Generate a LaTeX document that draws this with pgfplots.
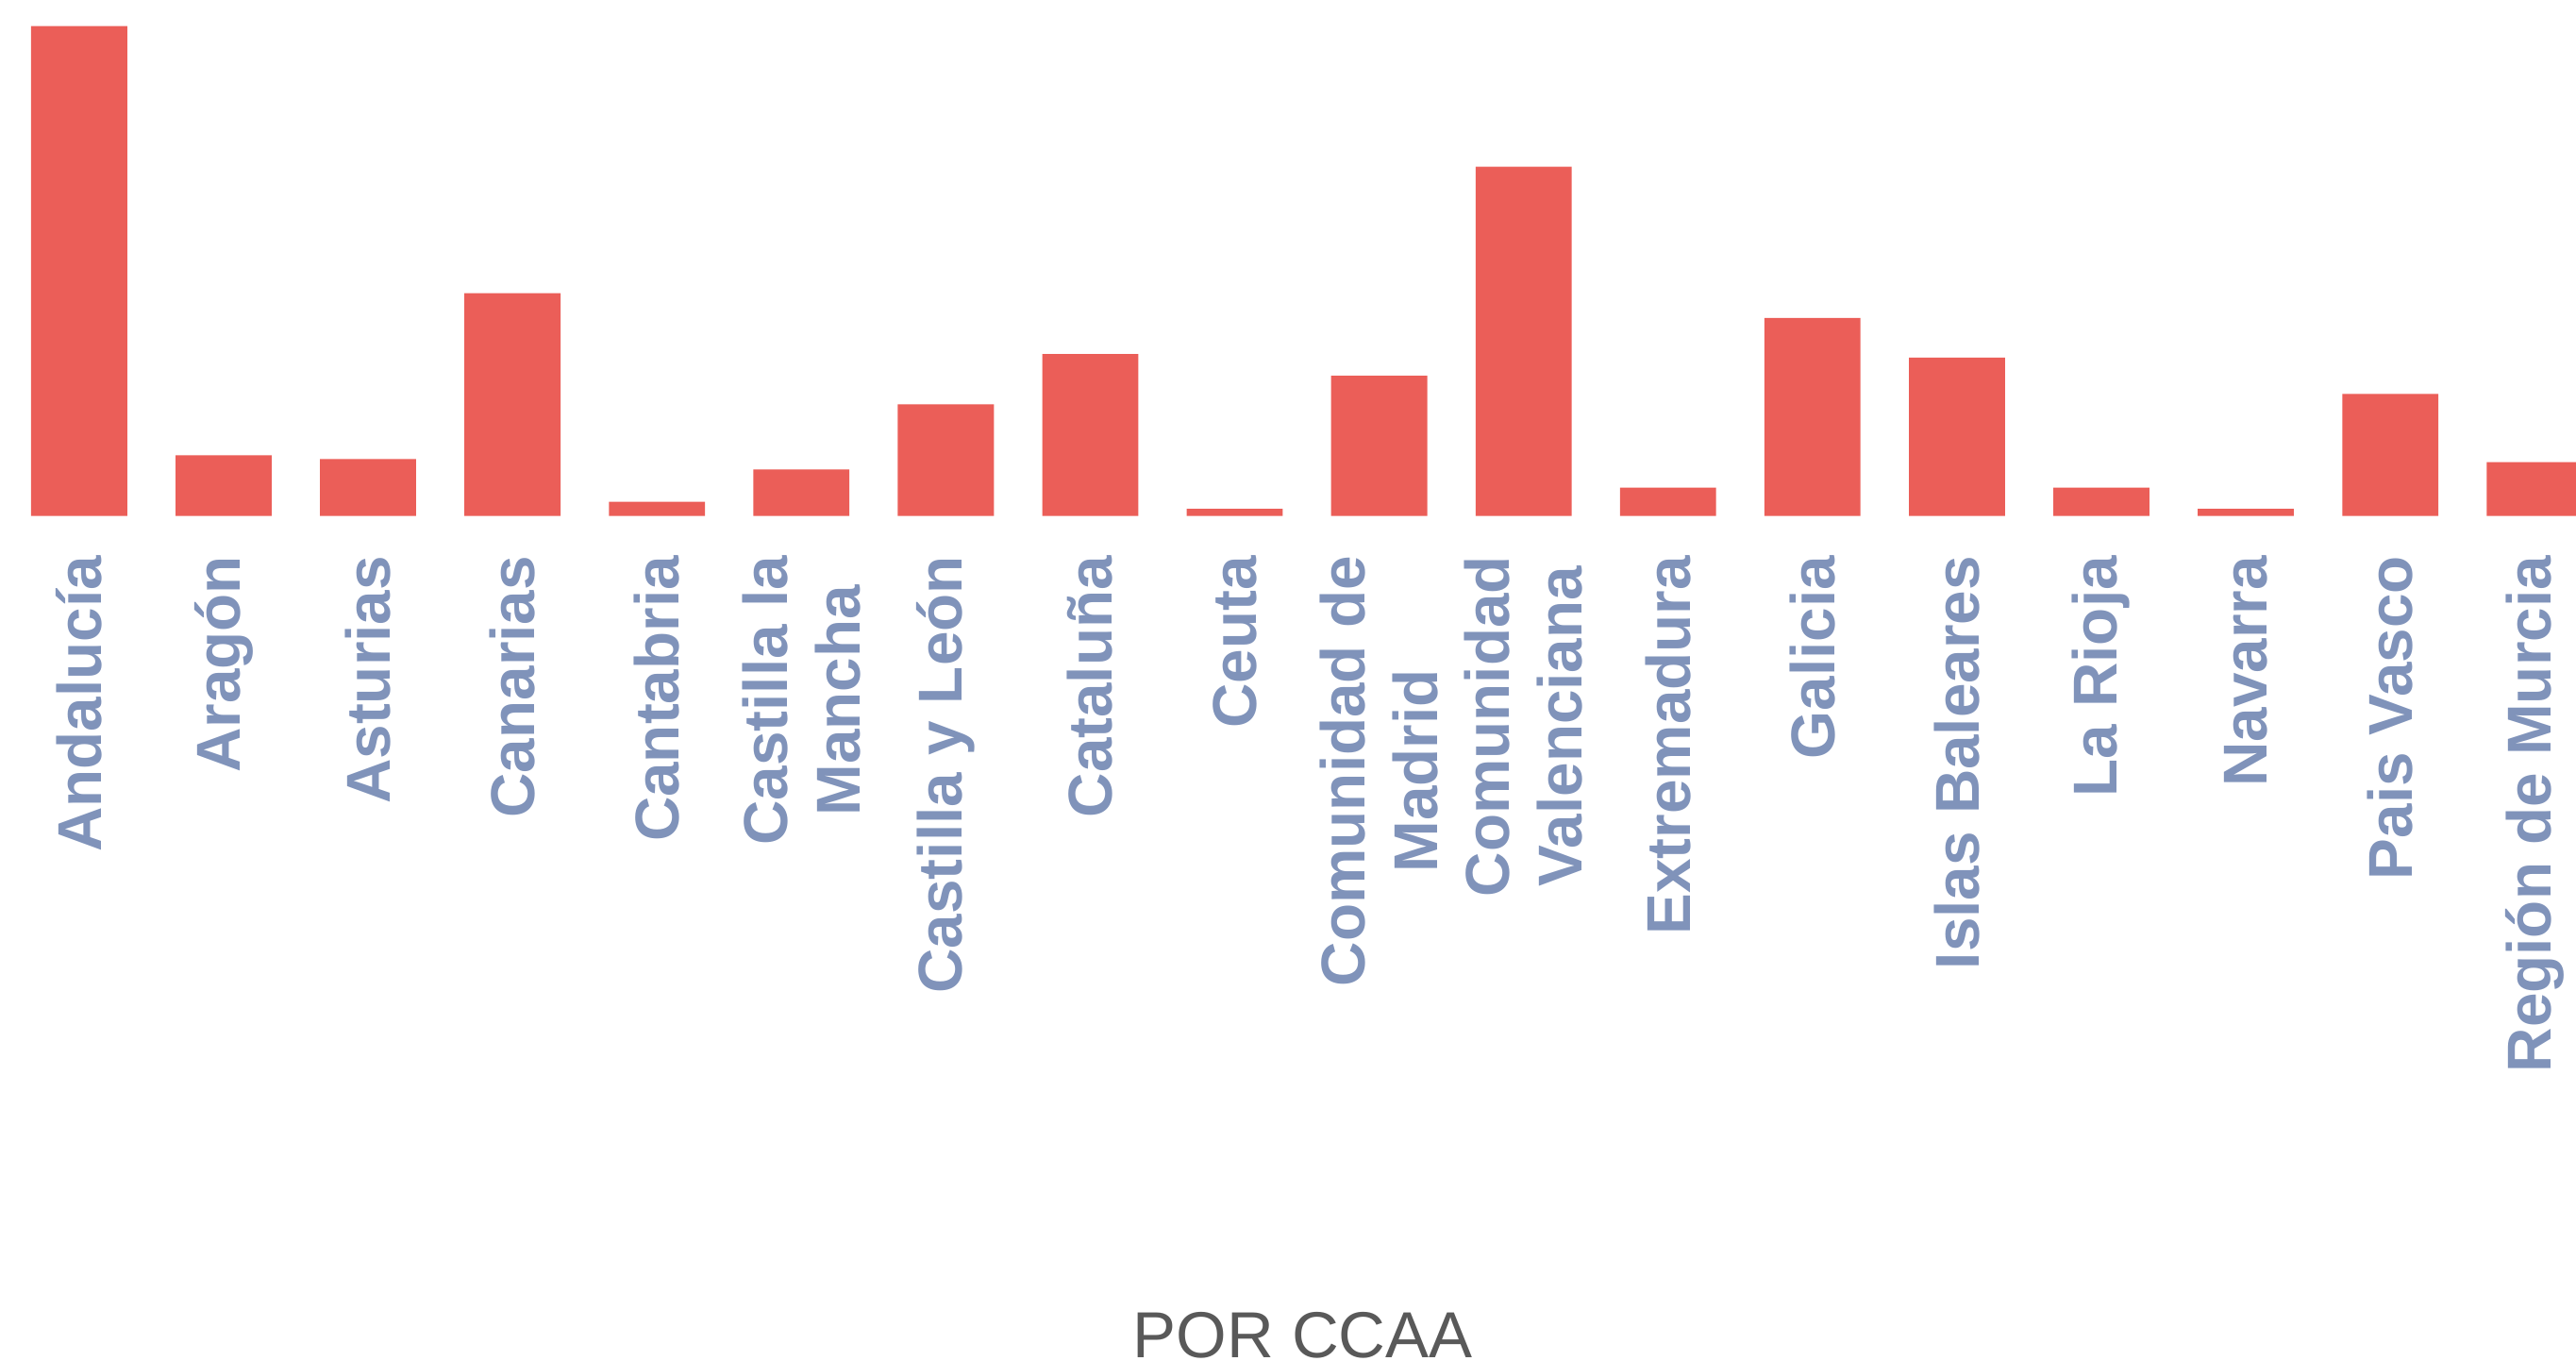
\documentclass[border=0pt]{standalone}
\usepackage{fontspec}
\setmainfont{Liberation Sans}
\usepackage{pgfplots}
\pgfplotsset{compat=1.18}
\definecolor{barred}{RGB}{235,94,88}
\definecolor{lblblue}{RGB}{128,147,186}
\definecolor{titlegray}{RGB}{89,89,89}
\begin{document}
\begin{tikzpicture}
\begin{axis}[
  at={(0,0)}, anchor=north west,
  scale only axis,
  width=784pt, height=157pt,
  xmin=-0.548, xmax=17.286,
  ymin=0, ymax=1530,
  axis x line*=bottom,
  x axis line style={draw=none},
  xtick style={draw=none},
  major tick length=0pt,
  hide y axis,
  ybar, bar width=0.665,
  xtick={0,...,17},
  xticklabels={Andalucía, Aragón, Asturias, Canarias, Cantabria, {Castilla la\\Mancha}, Castilla y León, Cataluña, Ceuta, {Comunidad de\\Madrid}, {Comunidad\\Valenciana}, Extremadura, Galicia, Islas Baleares, La Rioja, Navarra, Pais Vasco, Región de Murcia},
  x tick label style={rotate=90, anchor=east, inner sep=0pt, align=center,
    font=\fontsize{18.85}{22}\selectfont\bfseries, text=lblblue},
  xticklabel shift=12pt,
  xlabel={POR CCAA},
  xlabel style={at={(axis description cs:0.5057,-1.6306)}, anchor=base,
    font=\fontsize{19.8}{24}\selectfont, text=titlegray, inner sep=0pt},
]
\addplot[fill=barred, draw=none] coordinates {
 (0,1453) (1,180) (2,169) (3,661) (4,42) (5,138) (6,331) (7,480) (8,21)
 (9,416) (10,1036) (11,84) (12,587) (13,470) (14,84) (15,21) (16,362) (17,160)
};
\end{axis}
\pgfresetboundingbox
\path[use as bounding box] (0,0) rectangle (784pt,-414pt);
\end{tikzpicture}
\end{document}
